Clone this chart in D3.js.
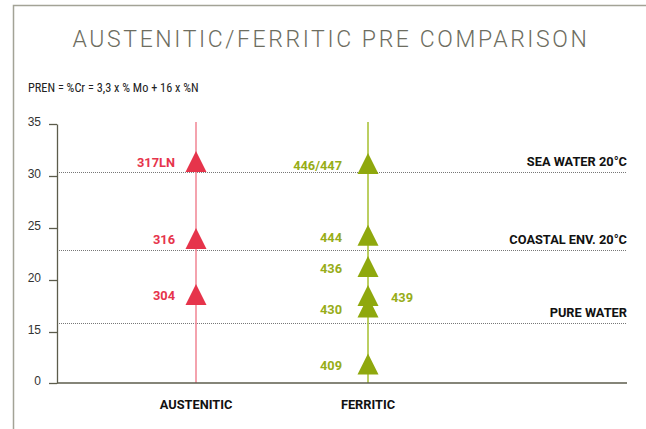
<!DOCTYPE html>
<meta charset="utf-8">
<style>
body { margin: 0; background: #fff; }
svg { font-family: "Roboto Condensed", "Liberation Sans Narrow", "DejaVu Sans Condensed", Roboto, sans-serif; }
.axis text { font-size: 12px; fill: #333; }
.axis path, .axis line { stroke: #5c5c4c; stroke-width: 1.3; }
.lbl { font-family: Roboto, sans-serif; font-size: 12.8px; font-weight: bold; }
</style>
<body>
<script src="https://cdn.jsdelivr.net/npm/d3@7"></script>
<script>

var title = "AUSTENITIC/FERRITIC PRE COMPARISON",
    formula = "PREN = %Cr = 3,3 x % Mo + 16 x %N";

var categories = ["AUSTENITIC", "FERRITIC"];
var yTicks = [0, 15, 20, 25, 30, 35];

// austenitic grades
var austNames = ["317LN", "316", "304"],
    austPre = [31.4, 24.0, 18.6];

// ferritic grades
var ferrNames = ["446/447", "444", "436", "439", "430", "409"],
    ferrPre = [31.2, 24.3, 21.3, 18.5, 17.4, 5.6],
    ferrSide = ["left", "left", "left", "right", "left", "left"];

// environment thresholds
var envNames = ["SEA WATER 20°C", "COASTAL ENV. 20°C", "PURE WATER"],
    envPre = [30.4, 22.9, 15.9];

var width = 646, height = 429;
var plotLeft = 57, plotRight = 627, plotTop = 124, plotBottom = 383;

var red = "#e6344b", redLine = "#f08593",
    green = "#8fa80d", greenLine = "#a6bf2e", greenText = "#97ad18";

var svg = d3.select("body").append("svg")
    .attr("width", width)
    .attr("height", height);

// frame
svg.append("path")
    .attr("d", "M13.5,429V5.5H646")
    .attr("fill", "none")
    .attr("stroke", "#a3a396")
    .attr("stroke-width", 1.5);

svg.append("text")
    .attr("x", 331).attr("y", 47)
    .attr("text-anchor", "middle")
    .style("font-family", "Roboto, sans-serif")
    .style("font-weight", 300)
    .style("font-size", "23px")
    .style("letter-spacing", "2.6px")
    .attr("fill", "#6d6d60")
    .text(title);

svg.append("text")
    .attr("x", 28).attr("y", 92)
    .style("font-size", "12.3px")
    .attr("fill", "#222")
    .text(formula);

// broken scale: 0-15 squeezed into one step
var y = d3.scaleLinear()
    .domain([0, 15, 35])
    .range([plotBottom, 332, plotTop]);

var x = d3.scalePoint()
    .domain(categories)
    .range([196, 368]);

// dotted threshold lines
svg.append("g").selectAll("line")
    .data(envPre)
    .enter().append("line")
    .attr("x1", plotLeft).attr("x2", plotRight)
    .attr("y1", function(d) { return Math.round(y(d)) + 0.5; })
    .attr("y2", function(d) { return Math.round(y(d)) + 0.5; })
    .attr("stroke", "#777")
    .attr("stroke-dasharray", "1,1");

svg.append("g").selectAll("text")
    .data(envNames)
    .enter().append("text")
    .attr("class", "lbl")
    .attr("x", plotRight)
    .attr("y", function(d, i) { return y(envPre[i]) - 6; })
    .attr("text-anchor", "end")
    .attr("fill", "#111")
    .text(function(d) { return d; });

// y axis
svg.append("g")
    .attr("class", "axis")
    .attr("transform", "translate(" + plotLeft + ",0)")
    .call(d3.axisLeft(y).tickValues(yTicks).tickSize(8).tickSizeOuter(0).tickPadding(8))
    .call(function(g) { g.selectAll("text").attr("dy", "0.1em"); });

// vertical series lines
svg.append("line")
    .attr("x1", x("AUSTENITIC")).attr("x2", x("AUSTENITIC"))
    .attr("y1", plotTop - 2).attr("y2", plotBottom)
    .attr("stroke", redLine).attr("stroke-width", 1.5);

svg.append("line")
    .attr("x1", x("FERRITIC")).attr("x2", x("FERRITIC"))
    .attr("y1", plotTop - 2).attr("y2", plotBottom)
    .attr("stroke", greenLine).attr("stroke-width", 1.5);

// baseline
svg.append("line")
    .attr("x1", plotLeft).attr("x2", plotRight)
    .attr("y1", plotBottom).attr("y2", plotBottom)
    .attr("stroke", "#5c5c4c").attr("stroke-width", 1.3);

function tri(cx, cy) {
  var h = 10.5;
  return "M" + cx + "," + (cy - h) + "L" + (cx + h) + "," + (cy + h) + "L" + (cx - h) + "," + (cy + h) + "Z";
}

// austenitic markers
svg.append("g").selectAll("path")
    .data(austPre)
    .enter().append("path")
    .attr("d", function(d) { return tri(x("AUSTENITIC"), y(d)); })
    .attr("fill", red);

svg.append("g").selectAll("text")
    .data(austNames)
    .enter().append("text")
    .attr("class", "lbl")
    .attr("x", x("AUSTENITIC") - 21)
    .attr("y", function(d, i) { return y(austPre[i]) + 1; })
    .attr("dy", "0.35em")
    .attr("text-anchor", "end")
    .attr("fill", red)
    .text(function(d) { return d; });

// ferritic markers
svg.append("g").selectAll("path")
    .data(ferrPre)
    .enter().append("path")
    .attr("d", function(d) { return tri(x("FERRITIC"), y(d)); })
    .attr("fill", green);

svg.append("g").selectAll("text")
    .data(ferrNames)
    .enter().append("text")
    .attr("class", "lbl")
    .attr("x", function(d, i) { return ferrSide[i] == "left" ? x("FERRITIC") - 26 : x("FERRITIC") + 23; })
    .attr("y", function(d, i) { return y(ferrPre[i]) + 2; })
    .attr("dy", "0.35em")
    .attr("text-anchor", function(d, i) { return ferrSide[i] == "left" ? "end" : "start"; })
    .attr("fill", greenText)
    .text(function(d) { return d; });

// category labels
svg.append("g").selectAll("text")
    .data(categories)
    .enter().append("text")
    .attr("class", "lbl")
    .attr("x", function(d) { return x(d); })
    .attr("y", 409)
    .attr("text-anchor", "middle")
    .attr("fill", "#111")
    .text(function(d) { return d; });

</script>
